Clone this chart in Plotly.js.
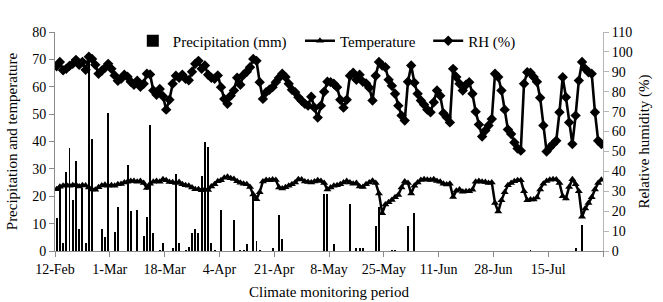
<!DOCTYPE html>
<html>
<head>
<meta charset="utf-8">
<script src="https://cdn.plot.ly/plotly-3.0.1.min.js"></script>
<style>html,body{margin:0;padding:0;background:#fff;}#chart{width:663px;height:302px;}</style>
</head>
<body>
<div id="chart"></div>
<script>
// First day of the series (12-Feb) and daily observations
var startDate = '2013-02-12';

var precipitation = [
  12, 23, 3, 28.7, 37.5, 18.5, 33, 8, 23, 3,
  71, 41, 0, 0, 8, 5, 50.5, 0, 7, 16,
  0, 0, 31.5, 14.5, 0, 15, 0, 5.5, 12.5, 46,
  6.5, 0, 0.5, 3, 0, 0, 1, 28, 3, 0,
  0.5, 1.5, 6.5, 8, 6.5, 27.5, 40, 38, 3, 0.5,
  0, 15, 0, 0, 0, 11.5, 0, 0.5, 0.5, 2.5,
  0, 21, 3.5, 0.5, 0, 0, 0, 1, 0, 13.2,
  4.5, 0, 0, 0, 0, 0, 0, 0, 0, 0,
  0, 0, 0, 21, 21, 0, 2.7, 0, 0, 0,
  0, 17, 0, 1, 1.2, 1, 0, 0, 0, 9.2,
  16, 0, 0, 0, 0.5, 0.3, 0, 0, 0, 9.2,
  0, 14, 0, 0, 0, 0, 0, 0, 0, 0,
  0, 0, 0, 0, 0, 0, 0, 0, 0, 0,
  0, 0, 0, 0, 0, 0, 0, 0, 0, 0,
  0, 0, 0, 0, 0, 0, 0, 0.3, 0, 0,
  0, 0, 0, 0, 0, 0, 0, 0, 0, 0,
  0, 1.2, 0, 9.5, 0, 0, 0, 0, 0, 0
];

var temperature = [
  22.6, 23.5, 23.8, 24.2, 23.8, 24.0, 24.2, 23.6, 24.0, 23.9,
  23.2, 22.5, 22.4, 23.3, 23.9, 24.2, 23.8, 24.0, 23.8, 24.4,
  24.5, 25.0, 25.3, 25.6, 25.6, 25.3, 25.6, 24.8, 23.0, 24.6,
  25.3, 25.6, 25.3, 26.2, 25.8, 25.2, 25.1, 24.8, 25.2, 24.4,
  24.0, 23.8, 23.2, 22.6, 22.6, 22.2, 22.6, 22.3, 23.6, 24.4,
  25.5, 25.8, 26.8, 27.1, 26.6, 26.3, 25.5, 24.9, 24.6, 24.4,
  23.4, 20.6, 18.9, 21.5, 25.4, 25.9, 25.8, 26.1, 25.9, 23.2,
  22.8, 23.3, 23.8, 24.4, 25.0, 26.2, 26.1, 25.4, 25.2, 25.0,
  25.4, 25.8, 25.6, 24.8, 22.5, 23.2, 23.8, 24.0, 24.4, 25.0,
  25.6, 25.0, 24.6, 24.8, 23.6, 23.4, 24.4, 25.0, 25.7, 24.8,
  21.0, 13.8, 17.0, 17.8, 18.6, 19.6, 20.5, 23.2, 25.4, 24.8,
  21.0, 23.8, 25.0, 25.9, 26.2, 26.0, 25.9, 26.2, 25.6, 25.3,
  24.6, 24.3, 24.6, 19.7, 22.0, 22.5, 21.6, 21.8, 21.8, 22.4,
  25.3, 25.6, 25.3, 25.2, 24.8, 25.0, 17.5, 14.4, 18.5, 21.5,
  24.0, 24.8, 25.5, 25.8, 25.8, 21.8, 18.5, 18.8, 18.8, 19.5,
  22.5, 24.6, 25.6, 26.0, 26.2, 26.1, 24.8, 20.0, 19.2, 23.4,
  26.2, 24.4, 21.8, 12.5, 15.5, 17.5, 19.6, 22.5, 24.8, 26.0
];

var relativeHumidity = [
  92.8, 94.9, 90.8, 91.5, 93.0, 94.0, 96.0, 93.5, 95.0, 91.0,
  97.6, 96.5, 93.5, 89.0, 90.5, 92.0, 94.0, 91.5, 88.2, 85.5,
  86.5, 88.5, 87.5, 85.0, 83.5, 85.5, 82.5, 84.0, 89.0, 88.7,
  80.6, 78.5, 81.4, 77.7, 71.0, 76.0, 84.0, 88.0, 87.0, 88.5,
  86.5, 85.8, 90.0, 94.0, 95.5, 91.5, 93.2, 88.5, 87.0, 86.5,
  88.2, 82.3, 76.4, 73.9, 78.0, 80.6, 87.0, 83.5, 88.5, 90.0,
  92.3, 96.5, 95.5, 84.8, 76.4, 79.8, 81.0, 82.3, 84.8, 87.0,
  89.0, 87.4, 84.0, 81.0, 79.8, 77.2, 75.5, 73.9, 73.0, 77.5,
  72.0, 67.0, 73.0, 80.0, 85.0, 84.8, 84.0, 82.3, 76.0, 72.0,
  76.0, 88.0, 89.5, 86.0, 88.5, 85.0, 84.2, 82.0, 75.6, 88.0,
  94.9, 93.2, 92.3, 86.0, 83.0, 79.0, 73.0, 68.0, 65.5, 85.0,
  93.2, 84.5, 79.0, 75.6, 73.5, 71.0, 69.7, 74.7, 80.6, 78.0,
  69.2, 67.2, 64.6, 91.5, 87.4, 84.0, 80.6, 83.5, 84.8, 79.0,
  70.0, 63.5, 57.5, 60.5, 63.0, 66.3, 89.0, 87.4, 80.6, 71.0,
  61.0, 58.8, 54.5, 51.5, 50.4, 84.0, 89.8, 89.5, 87.4, 85.0,
  77.0, 63.0, 50.0, 52.0, 53.7, 55.4, 69.7, 87.3, 77.2, 64.6,
  53.7, 68.0, 85.6, 94.9, 91.5, 89.8, 89.0, 69.7, 55.4, 53.7
];

var tickDates = ['2013-02-12', '2013-03-01', '2013-03-18', '2013-04-04', '2013-04-21',
                 '2013-05-08', '2013-05-25', '2013-06-11', '2013-06-28', '2013-07-15', '2013-08-01'];
var tickLabels = ['12-Feb', '1-Mar', '18-Mar', '4-Apr', '21-Apr',
                  '8-May', '25-May', '11-Jun', '28-Jun', '15-Jul', ''];

// daily dates, each value centred in its day slot
var DAY = 86400000;
var t0 = Date.parse(startDate + 'T00:00:00Z');
var days = precipitation.map(function (_, i) {
  return new Date(t0 + (i + 0.5) * DAY).toISOString().slice(0, 19).replace('T', ' ');
});

var FONT = 'Liberation Serif, Times New Roman, serif';
var axisGrey = '#8a8a8a';

var traces = [
  {
    type: 'bar', name: 'Precipitation (mm)', x: days, y: precipitation,
    width: 0.6 * DAY, marker: {color: '#000000', line: {width: 0}},
    legend: 'legend'
  },
  {
    type: 'scatter', mode: 'lines+markers', name: 'Temperature', x: days, y: temperature,
    line: {color: '#000000', width: 2.5},
    marker: {symbol: 'triangle-up', size: 7, color: '#000000'},
    legend: 'legend2'
  },
  {
    type: 'scatter', mode: 'lines+markers', name: 'RH (%)', x: days, y: relativeHumidity,
    yaxis: 'y2',
    line: {color: '#000000', width: 2.6},
    marker: {symbol: 'diamond', size: 8, color: '#000000'},
    legend: 'legend3'
  }
];

function legendAt(x) {
  return {
    x: x, y: 0.959, xanchor: 'left', yanchor: 'middle', orientation: 'h',
    bgcolor: 'rgba(0,0,0,0)', borderwidth: 0,
    font: {family: FONT, size: 15, color: '#000000'}
  };
}

var layout = {
  width: 663, height: 302,
  margin: {l: 55, r: 60, t: 32, b: 51, pad: 0},
  paper_bgcolor: '#ffffff', plot_bgcolor: '#ffffff',
  font: {family: FONT, size: 14, color: '#000000'},
  showlegend: true,
  bargap: 0,
  legend: legendAt(0.142),
  legend2: legendAt(0.447),
  legend3: legendAt(0.681),
  xaxis: {
    type: 'date', range: ['2013-02-12', '2013-08-01'],
    tickmode: 'array', tickvals: tickDates, ticktext: tickLabels,
    ticks: 'outside', ticklen: 5, tickcolor: axisGrey, tickwidth: 1,
    showline: true, linecolor: axisGrey, linewidth: 1,
    showgrid: false, zeroline: false,
    tickfont: {family: FONT, size: 14, color: '#000000'},
    title: {text: 'Climate monitoring period', font: {family: FONT, size: 15, color: '#000000'}, standoff: 10}
  },
  yaxis: {
    range: [0, 80], dtick: 10, tick0: 0,
    ticks: 'outside', ticklen: 5, tickcolor: axisGrey, tickwidth: 1,
    showline: true, linecolor: axisGrey, linewidth: 1,
    showgrid: false, zeroline: false,
    tickfont: {family: FONT, size: 14, color: '#000000'},
    title: {text: 'Precipitation and temperature', font: {family: FONT, size: 15, color: '#000000'}, standoff: 10}
  },
  yaxis2: {
    overlaying: 'y', side: 'right',
    range: [0, 110], dtick: 10, tick0: 0,
    ticks: 'outside', ticklen: 5, tickcolor: '#b5b5b5', tickwidth: 1,
    showline: true, linecolor: '#b5b5b5', linewidth: 1,
    showgrid: false, zeroline: false,
    tickfont: {family: FONT, size: 14, color: '#000000'},
    title: {text: 'Relative humidity (%)', font: {family: FONT, size: 15, color: '#000000'}, standoff: 6}
  }
};

Plotly.newPlot('chart', traces, layout, {staticPlot: true, displayModeBar: false});
</script>
</body>
</html>
